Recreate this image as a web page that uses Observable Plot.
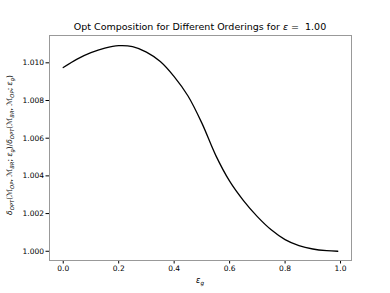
<!DOCTYPE html>
<html>
<head>
<meta charset="utf-8">
<script src="https://cdn.jsdelivr.net/npm/d3@7"></script>
<script src="https://cdn.jsdelivr.net/npm/@observablehq/plot@0.6"></script>
<style>
  html, body { margin: 0; padding: 0; background: #fff; }
  #chart svg { display: block; }
</style>
</head>
<body>
<div id="chart"></div>
<script>
const epsG = [0, 0.05, 0.1, 0.15, 0.2, 0.25, 0.3, 0.35, 0.4, 0.45, 0.5, 0.55, 0.6, 0.65, 0.7, 0.75, 0.8, 0.85, 0.9, 0.95, 0.99];
const ratio = [1.00975, 1.01020, 1.01054, 1.01078, 1.01091, 1.01086, 1.01057, 1.01007, 1.00927, 1.00824, 1.00680, 1.00509, 1.00372, 1.00269, 1.00184, 1.00114, 1.00062, 1.00030, 1.00012, 1.00003, 1.00000];
const xTicks = [0, 0.2, 0.4, 0.6, 0.8, 1.0];
const yTicks = [1.000, 1.002, 1.004, 1.006, 1.008, 1.010];

const data = epsG.map((x, i) => ({x, y: ratio[i]}));

const W = 390, H = 293;
const chart = Plot.plot({
  width: W,
  height: H,
  marginLeft: 49,
  marginRight: 39,
  marginTop: 35,
  marginBottom: 33,
  style: {fontFamily: "DejaVu Sans", fontSize: "7.5px", color: "#000", background: "#fff"},
  x: {domain: [-0.0495, 1.0395], ticks: xTicks, tickFormat: d3.format(".1f"), tickSize: 3.5, tickPadding: 2, label: null},
  y: {domain: [0.99951, 1.01145], ticks: yTicks, tickFormat: d3.format(".3f"), tickSize: 3.5, tickPadding: 2, label: null},
  marks: [
    Plot.line(data, {x: "x", y: "y", stroke: "#000", strokeWidth: 1.3, curve: "catmull-rom"}),
    Plot.frame({stroke: "#999", strokeWidth: 1})
  ]
});
document.getElementById("chart").appendChild(chart);

const svg = d3.select(chart);
const ff = "DejaVu Sans";

function addRich(g, parts, size) {
  parts.forEach(p => {
    const t = g.append("tspan").text(p.t);
    if (p.i) t.attr("font-style", "italic");
    if (p.sub) t.attr("font-size", size * 0.7).attr("dy", size * 0.25);
    if (p.back) t.attr("dy", -size * 0.25);
  });
}

// Title
const title = svg.append("text")
  .attr("x", 200).attr("y", 30)
  .attr("text-anchor", "middle")
  .attr("font-family", ff).attr("font-size", 9.5).attr("fill", "#000");
addRich(title, [
  {t: "Opt Composition for Different Orderings for "},
  {t: "ε", i: true},
  {t: " =  1.00"}
], 9.5);

// x label
const xl = svg.append("text")
  .attr("x", 200).attr("y", 283)
  .attr("text-anchor", "middle")
  .attr("font-family", ff).attr("font-size", 8).attr("fill", "#000");
addRich(xl, [{t: "ε", i: true}, {t: "g", i: true, sub: true}], 8);

// y label
const s = 7.5;
const yl = svg.append("text")
  .attr("transform", "translate(12,145) rotate(-90)")
  .attr("text-anchor", "middle")
  .attr("font-family", ff).attr("font-size", s).attr("fill", "#000");
const parts = [];
function sub(t) { parts.push({t, i: true, sub: true}); }
function back(t, i) { parts.push({t, i, back: true}); }
parts.push({t: "δ", i: true}); sub("OPT");
back("(ℳ", false); sub("OP");
back(", ℳ", false); sub("BR");
back("; ", false); parts.push({t: "ε", i: true}); sub("g");
back(")/", false); parts.push({t: "δ", i: true}); sub("OPT");
back("(ℳ", false); sub("BR");
back(", ℳ", false); sub("OP");
back("; ", false); parts.push({t: "ε", i: true}); sub("g");
back(")", false);
addRich(yl, parts, s);
</script>
</body>
</html>
